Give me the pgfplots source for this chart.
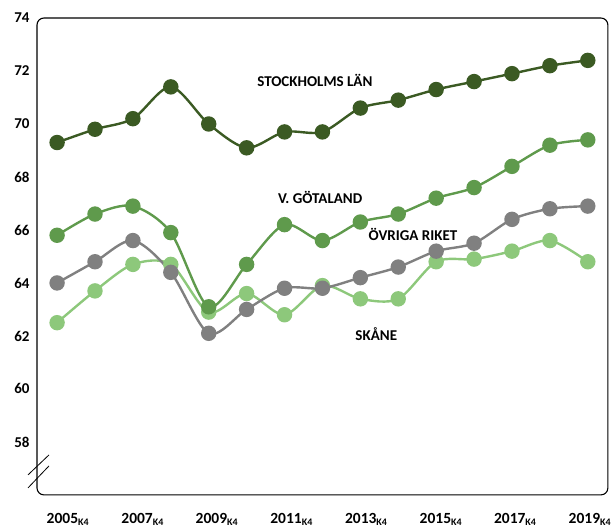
\documentclass[border=0pt]{standalone}
\usepackage{fontspec}
\setmainfont{Carlito}
\usepackage{pgfplots}
\pgfplotsset{compat=1.18}

\definecolor{sthlm}{HTML}{3B5A23}
\definecolor{vgot}{HTML}{5F9A4C}
\definecolor{ovr}{HTML}{808080}
\definecolor{skane}{HTML}{8DC87B}

\pgfplotstableread{
year sthlm vgot ovr skane
2005 69.3 65.8 64.0 62.5
2006 69.8 66.6 64.8 63.7
2007 70.2 66.9 65.6 64.7
2008 71.4 65.9 64.4 64.7
2009 70.0 63.1 62.1 62.9
2010 69.1 64.7 63.0 63.6
2011 69.7 66.2 63.8 62.8
2012 69.7 65.6 63.8 63.9
2013 70.6 66.3 64.2 63.4
2014 70.9 66.6 64.6 63.4
2015 71.3 67.2 65.2 64.8
2016 71.6 67.6 65.5 64.9
2017 71.9 68.4 66.4 65.2
2018 72.2 69.2 66.8 65.6
2019 72.4 69.4 66.9 64.8
}\data

\newcommand{\kv}{\raisebox{-0.3ex}{\fontsize{10}{12}\selectfont\bfseries K4}}

\begin{document}
\begin{tikzpicture}
\begin{axis}[
    scale only axis,
    width=571pt, height=477pt,
    xmin=2004.47, xmax=2019.53,
    ymin=56, ymax=74,
    axis line style={draw=none},
    ytick={58,60,...,74},
    % labels sit a little right of the points, as in the original
    xtick={2005.28,2007.25,2009.21,2011.18,2013.15,2015.12,2017.08,2019.05},
    xticklabels={2005\kv,2007\kv,2009\kv,2011\kv,2013\kv,2015\kv,2017\kv,2019\kv},
    major tick length=0pt,
    tick style={draw=none},
    yticklabel style={font=\fontsize{15}{17}\selectfont\bfseries, xshift=-4pt},
    xticklabel style={font=\fontsize{15.5}{18}\selectfont\bfseries, yshift=-15pt},
    /pgf/number format/assume math mode=true,
    clip=false,
    every axis plot/.append style={smooth, line width=2.4pt, mark=*, mark size=6.5pt},
]
\draw[line width=1.1pt, rounded corners=7pt] (rel axis cs:0,0) rectangle (rel axis cs:1,1);
\draw[line width=0.8pt] ([shift={(-9pt,20pt)}]rel axis cs:0,0) -- ([shift={(12pt,40pt)}]rel axis cs:0,0);
\draw[line width=0.8pt] ([shift={(-9pt,7pt)}]rel axis cs:0,0) -- ([shift={(12pt,29pt)}]rel axis cs:0,0);

\addplot[color=skane, mark options={fill=skane}] table[x=year, y=skane] {\data};
\addplot[color=ovr, mark options={fill=ovr}] table[x=year, y=ovr] {\data};
\addplot[color=vgot, mark options={fill=vgot}] table[x=year, y=vgot] {\data};
\addplot[color=sthlm, mark options={fill=sthlm}] table[x=year, y=sthlm] {\data};

\begin{scope}[every node/.style={font=\fontsize{15}{17}\selectfont\bfseries}]
\node at (axis cs:2011.8,71.65) {STOCKHOLMS LÄN};
\node at (axis cs:2011.94,67.22) {V. GÖTALAND};
\node at (axis cs:2014.39,65.82) {ÖVRIGA RIKET};
\node at (axis cs:2013.42,62.07) {SKÅNE};
\end{scope}
\end{axis}
\path ([shift={(-37pt,-31pt)}]current axis.south west) rectangle ([shift={(6pt,18pt)}]current axis.north east);
\end{tikzpicture}
\end{document}
